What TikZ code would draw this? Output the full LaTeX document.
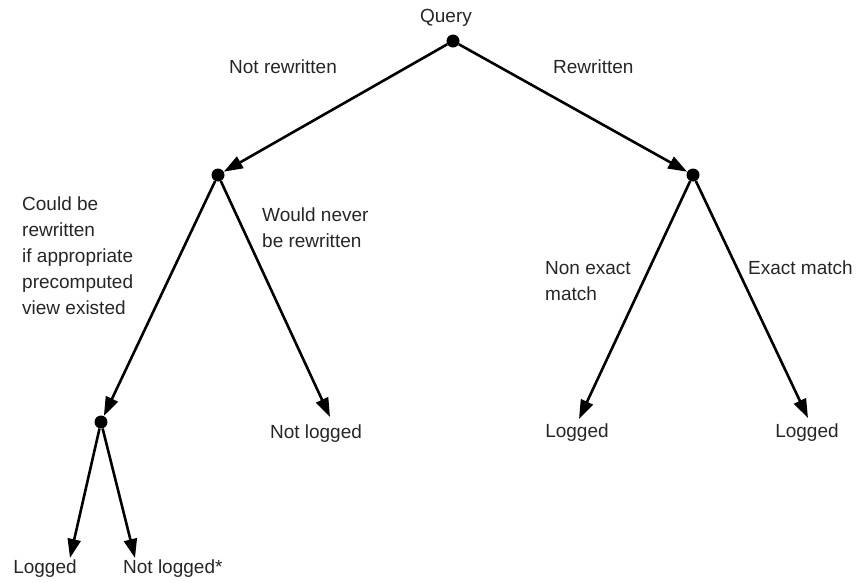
\documentclass[tikz,border=0pt]{standalone}
\usepackage{fontspec}
\setmainfont{Liberation Sans}
\usetikzlibrary{arrows.meta}
\begin{document}
\begin{tikzpicture}[x=1pt,y=-1pt,
  branch/.style={line width=2.6pt, -{Triangle[length=19pt,width=13pt]}},
  junction/.style={circle, fill=black, inner sep=0pt, minimum size=13pt},
  lbl/.style={font=\fontsize{19}{26}\selectfont, text=black!85, inner sep=0pt, align=left},
]
\useasboundingbox (0,0) rectangle (865,582);

% decision points
\node[junction] (q)  at (453,41)  {};
\node[junction] (nr) at (218,175) {};
\node[junction] (rw) at (693,175) {};
\node[junction] (cb) at (101,422) {};

% leaf arrow ends
\coordinate (nl)  at (330,417);
\coordinate (lg1) at (579,419);
\coordinate (lg2) at (808,418);
\coordinate (lg3) at (70,558);
\coordinate (nl2) at (135,558);

% branches
\draw[branch] (q)  -- (nr);
\draw[branch] (q)  -- (rw);
\draw[branch] (nr) -- (cb);
\draw[branch] (nr) -- (nl);
\draw[branch] (rw) -- (lg1);
\draw[branch] (rw) -- (lg2);
\draw[branch] (cb) -- (lg3);
\draw[branch] (cb) -- (nl2);

% labels
\node[lbl] (tq)   at (446,18)  {Query};
\node[lbl, anchor=west] (tnr) at (229,67) {Not rewritten};
\node[lbl, anchor=west] (trw) at (553,67) {Rewritten};
\node[lbl, anchor=north west] (tcb) at (22,197)
  {Could be\\rewritten\\if appropriate\\precomputed\\view existed};
\node[lbl, anchor=north west] (twn) at (262,208) {Would never\\be rewritten};
\node[lbl, anchor=north west] (tne) at (545,261) {Non exact\\match};
\node[lbl, anchor=west] (tem) at (748,268) {Exact match};
\node[lbl] (tnl)  at (316,434) {Not logged};
\node[lbl] (tlg1) at (577,433) {Logged};
\node[lbl] (tlg2) at (807,433) {Logged};
\node[lbl] (tlg3) at (45,569)  {Logged};
\node[lbl, anchor=west] (tnl2) at (123,569) {Not logged*};
\end{tikzpicture}
\end{document}
